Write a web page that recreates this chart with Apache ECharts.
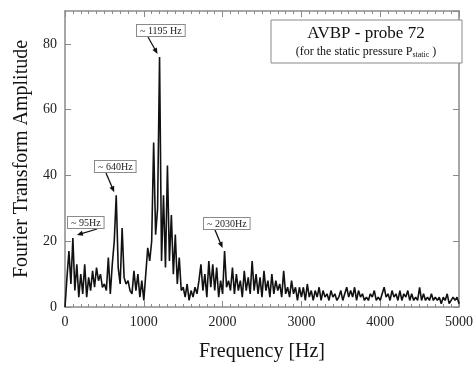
<!DOCTYPE html>
<html>
<head>
<meta charset="utf-8">
<script src="https://cdn.jsdelivr.net/npm/echarts@6/dist/echarts.min.js"></script>
<style>
  html, body { margin: 0; padding: 0; background: #fff; }
  #chart { width: 476px; height: 367px; }
</style>
</head>
<body>
<div id="chart"></div>
<script>
// spectrum sampled every 25 Hz from 0 to 5000 Hz
const freqStep = 25;
const amplitude = [
  0, 9, 17, 7, 21, 5, 13, 3, 10, 4, 13, 3, 9, 5, 11, 6, 12, 8, 10, 6,
  7, 5, 15, 4, 13, 20, 34, 12, 7, 24, 9, 7, 8, 5, 4, 11, 5, 10, 3, 8,
  2, 10, 18, 14, 20, 50, 22, 30, 76, 14, 34, 12, 43, 14, 28, 10, 22, 7, 15, 5,
  6, 3, 7, 2, 5, 3, 6, 4, 8, 13, 5, 10, 3, 14, 6, 13, 5, 12, 3, 8,
  4, 17, 6, 8, 5, 12, 4, 10, 5, 8, 3, 11, 5, 9, 4, 14, 5, 10, 4, 9,
  3, 11, 5, 8, 3, 10, 4, 8, 5, 7, 3, 11, 4, 6, 3, 8, 4, 6, 2, 6,
  3, 6, 2, 7, 3, 5, 2, 5, 3, 6, 2, 5, 3, 4, 2, 5, 3, 4, 2, 3,
  5, 2, 4, 6, 3, 5, 3, 6, 2, 5, 3, 4, 2, 3, 2, 4, 3, 5, 2, 3,
  2, 4, 6, 3, 4, 2, 5, 3, 4, 2, 5, 2, 4, 3, 5, 2, 4, 2, 3, 2,
  6, 2, 4, 2, 3, 2, 4, 2, 3, 2, 3, 1, 3, 2, 4, 1, 2, 3, 2, 3, 1
];
const xTicks = [0, 1000, 2000, 3000, 4000, 5000];
const yTicks = [0, 20, 40, 60, 80];

const peakLabels = ['~ 95Hz', '~ 640Hz', '~ 1195 Hz', '~ 2030Hz'];
const peakFreqs = [100, 650, 1200, 2025];

const font = '"Liberation Serif", "DejaVu Serif", serif';
const axisGray = '#8a8a8a';

const chart = echarts.init(document.getElementById('chart'));
const points = amplitude.map((a, i) => [i * freqStep, a]);

function xAxisBase(pos){
    return {
        type: 'value', position: pos, min: 0, max: 5000, interval: 1000,
        axisLine: {show: true, onZero: false, lineStyle: {color: axisGray, width: 1.5}},
        axisTick: {show: true, inside: true, length: 6, lineStyle: {color: axisGray}},
        minorTick: {show: true, splitNumber: 10, length: 3, lineStyle: {color: axisGray}},
        splitLine: {show: false}
    };
}
function yAxisBase(pos){
    return {
        type: 'value', position: pos, min: 0, max: 90, interval: 20,
        axisLine: {show: true, onZero: false, lineStyle: {color: axisGray, width: 1.5}},
        axisTick: {show: true, inside: true, length: 6, lineStyle: {color: axisGray}},
        splitLine: {show: false}
    };
}

let option = {
    animation: false,
    backgroundColor: '#fff',
    grid: {left: 65, right: 13, top: 11, bottom: 58},
    xAxis: [
        Object.assign(xAxisBase('bottom'), {
            name: 'Frequency [Hz]', nameLocation: 'middle', nameGap: 35,
            nameTextStyle: {fontFamily: font, fontSize: 20, color: '#111'},
            axisLabel: {fontFamily: font, fontSize: 14, color: '#222', margin: 8,
                formatter: v => xTicks.indexOf(v) >= 0 ? String(v) : ''}
        }),
        Object.assign(xAxisBase('top'), {axisLabel: {show: false}})
    ],
    yAxis: [
        Object.assign(yAxisBase('left'), {
            name: 'Fourier Transform Amplitude', nameLocation: 'middle', nameGap: 31,
            nameTextStyle: {fontFamily: font, fontSize: 20, color: '#111'},
            axisLabel: {fontFamily: font, fontSize: 14, color: '#222', margin: 8, showMaxLabel: false,
                formatter: v => yTicks.indexOf(v) >= 0 ? String(v) : ''}
        }),
        Object.assign(yAxisBase('right'), {axisLabel: {show: false}})
    ],
    series: [{
        type: 'line',
        data: points,
        showSymbol: false,
        lineStyle: {color: '#111', width: 1.6},
        z: 3
    }]
};
chart.setOption(option);

// annotation boxes (pixel layout) with arrows to the peaks
const boxPos = [[67, 216], [94, 160], [136, 24], [203, 217]];
const graphics = [];
peakLabels.forEach((lbl, i) => {
    const tip = chart.convertToPixel({xAxisIndex: 0, yAxisIndex: 0}, [peakFreqs[i], amplitude[peakFreqs[i] / freqStep]]);
    const [bx, by] = boxPos[i];
    graphics.push({
        type: 'text', left: bx, top: by, z: 10,
        style: {
            text: lbl, font: '10px ' + font, fill: '#222',
            backgroundColor: '#fff', borderColor: axisGray, borderWidth: 1, padding: [1, 3, 0, 3]
        }
    });
    const sx = i === 0 ? bx + 30 : bx + 12;
    const sy = by + 13;
    const ex = tip[0] + (i === 0 ? 4 : -2), ey = tip[1] - 3;
    const ang = Math.atan2(ey - sy, ex - sx);
    graphics.push({
        type: 'line', z: 9,
        shape: {x1: sx, y1: sy, x2: ex - 4 * Math.cos(ang), y2: ey - 4 * Math.sin(ang)},
        style: {stroke: '#111', lineWidth: 1.3}
    });
    const hl = 6, hw = 2.5;
    const bxp = ex - hl * Math.cos(ang), byp = ey - hl * Math.sin(ang);
    graphics.push({
        type: 'polygon', z: 9,
        shape: {points: [
            [ex, ey],
            [bxp + hw * Math.sin(ang), byp - hw * Math.cos(ang)],
            [bxp - hw * Math.sin(ang), byp + hw * Math.cos(ang)]
        ]},
        style: {fill: '#111'}
    });
});

// title box
graphics.push({
    type: 'rect', z: 10,
    shape: {x: 271, y: 20, width: 191, height: 43},
    style: {fill: '#fff', stroke: axisGray, lineWidth: 1}
});
graphics.push({
    type: 'text', z: 11, x: 366, y: 34,
    style: {text: 'AVBP - probe 72', font: '17px ' + font, fill: '#111', align: 'center', verticalAlign: 'middle'}
});
graphics.push({
    type: 'text', z: 11, x: 366, y: 52,
    style: {
        text: '{a|(for the static pressure P}{s|static}{a| )}',
        align: 'center', verticalAlign: 'middle',
        rich: {
            a: {fontFamily: font, fontSize: 12, fill: '#111'},
            s: {fontFamily: font, fontSize: 8, fill: '#111', padding: [6, 0, 0, 0]}
        }
    }
});

chart.setOption({graphic: graphics});
</script>
</body>
</html>
